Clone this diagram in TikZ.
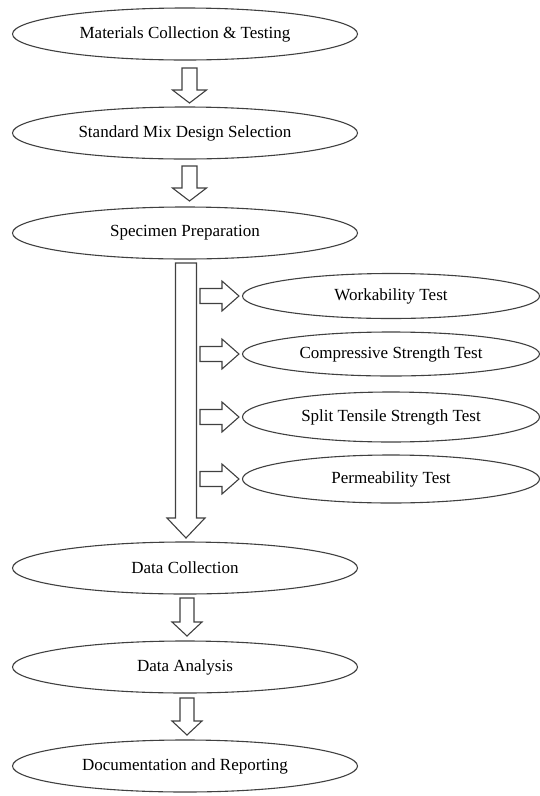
\documentclass[tikz,border=0pt]{standalone}
\usepackage{fontspec}
\setmainfont{Liberation Serif}
\usetikzlibrary{shapes.geometric,calc}
\tikzset{
  ell/.style={draw=black!75, line width=1.1pt, ellipse, inner sep=0pt, minimum width=345pt, minimum height=52pt, font=\fontsize{17}{19}\selectfont},
  tell/.style={ell, minimum width=297pt},
  blk/.style={draw=black!75, line width=1.1pt, line join=miter, fill=white}
}
% vertical block arrow: from #1 (top centre) to #2 (tip); #3 shaft half, #4 head half, #5 head length
\newcommand\vblk[5]{\draw[blk] let \p1=(#1), \p2=(#2) in
  (\x1-#3pt,\y1) -- (\x1+#3pt,\y1) -- (\x1+#3pt,\y2+#5pt) -- (\x1+#4pt,\y2+#5pt) -- (\x1,\y2) -- (\x1-#4pt,\y2+#5pt) -- (\x1-#3pt,\y2+#5pt) -- cycle;}
% horizontal block arrow: from #1 (left centre) to #2 (tip)
\newcommand\hblk[5]{\draw[blk] let \p1=(#1), \p2=(#2) in
  (\x1,\y1+#3pt) -- (\x2-#5pt,\y1+#3pt) -- (\x2-#5pt,\y1+#4pt) -- (\x2,\y1) -- (\x2-#5pt,\y1-#4pt) -- (\x2-#5pt,\y1-#3pt) -- (\x1,\y1-#3pt) -- cycle;}
\begin{document}
\begin{tikzpicture}[x=1pt,y=-1pt]
\useasboundingbox (0,0) rectangle (540,796);
\node[ell] (m1) at (185,34) {Materials Collection \& Testing};
\node[ell] (m2) at (185,133) {Standard Mix Design Selection};
\node[ell] (m3) at (185,233) {Specimen Preparation};
\node[tell, minimum height=45pt] (t1) at (391,296) {Workability Test};
\node[tell, minimum height=44pt] (t2) at (391,354) {Compressive Strength Test};
\node[tell, minimum height=50pt] (t3) at (391,417) {Split Tensile Strength Test};
\node[tell, minimum height=48pt] (t4) at (391,479) {Permeability Test};
\node[ell] (d1) at (185,568) {Data Collection};
\node[ell] (d2) at (185,667) {Data Analysis};
\node[ell] (d3) at (185,766) {Documentation and Reporting};
% connector end points
\coordinate (a1s) at (189.5,68);  \coordinate (a1e) at (189.5,103);
\coordinate (a2s) at (189.5,166); \coordinate (a2e) at (189.5,201);
\coordinate (bs) at (186,263);    \coordinate (be) at (186,538);
\coordinate (a3s) at (187,598);   \coordinate (a3e) at (187,636);
\coordinate (a4s) at (187,698);   \coordinate (a4e) at (187,735);
\vblk{a1s}{a1e}{7.5}{17}{13}
\vblk{a2s}{a2e}{7.5}{17}{13}
\vblk{bs}{be}{10.5}{19}{20}
\vblk{a3s}{a3e}{7}{15}{14}
\vblk{a4s}{a4e}{7}{15}{14}
\foreach \t in {t1,t2,t3,t4}{
  \coordinate (\t l) at ($(\t.west)+(-42,0)$);
  \coordinate (\t r) at ($(\t.west)+(-3,0)$);
  \hblk{\t l}{\t r}{7.5}{15}{17}
}
\end{tikzpicture}
\end{document}
